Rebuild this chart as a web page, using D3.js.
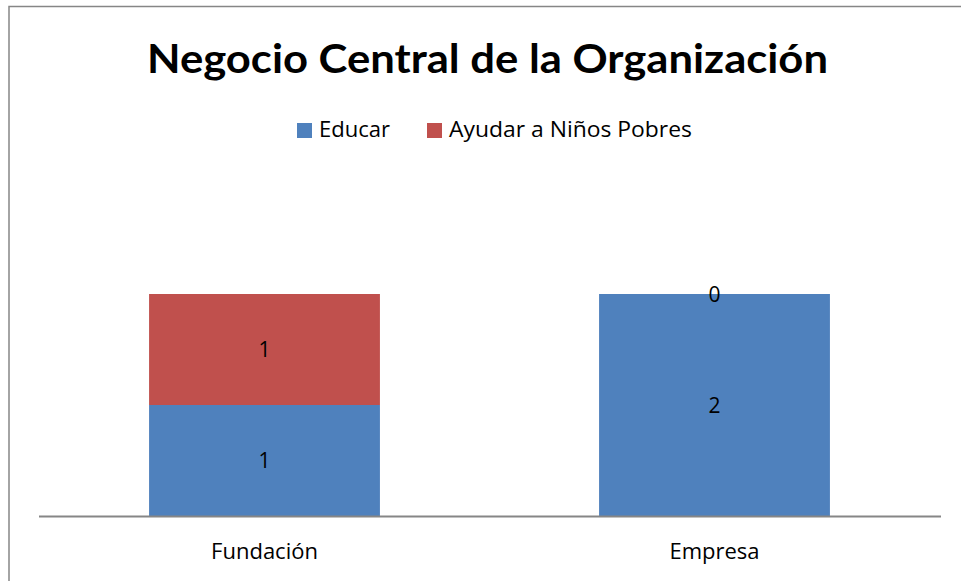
<!DOCTYPE html>
<html>
<head>
<meta charset="utf-8">
<script src="https://cdn.jsdelivr.net/npm/d3@7"></script>
<style>
  body { margin: 0; background: #fff; }
  text { font-family: "Open Sans", sans-serif; fill: #000; }
</style>
</head>
<body>
<div id="chart"></div>
<script>
// chart data
var categories = ["Fundación", "Empresa"];
var seriesNames = ["Educar", "Ayudar a Niños Pobres"];
var educar = [1, 2];
var ayudar = [1, 0];
var colors = ["#4f81bd", "#c0504d"];

var W = 961, H = 581;

var svg = d3.select("#chart").append("svg")
    .attr("width", W)
    .attr("height", H);

// outer frame
svg.append("rect")
    .attr("x", 9).attr("y", 6.5)
    .attr("width", W).attr("height", H)
    .style("fill", "none")
    .style("stroke", "#868686")
    .style("stroke-width", 1.5);

// scales
var x = d3.scaleBand().domain(categories).range([39.5, 939.5]).paddingInner(0.487).paddingOuter(0.2435);
var y = d3.scaleLinear().domain([0, 2]).range([516, 294]);

// stack data
var rows = categories.map(function(c, i) {
    return {cat: c, Educar: educar[i], "Ayudar a Niños Pobres": ayudar[i]};
});
var stacked = d3.stack().keys(seriesNames)(rows);

var layers = svg.selectAll("g.layer")
    .data(stacked).enter().append("g")
    .attr("class", "layer")
    .style("fill", function(d, i) { return colors[i]; });

layers.selectAll("rect")
    .data(function(d) { return d; })
    .enter().append("rect")
    .attr("x", function(d) { return x(d.data.cat); })
    .attr("width", x.bandwidth())
    .attr("y", function(d) { return y(d[1]); })
    .attr("height", function(d) { return y(d[0]) - y(d[1]); });

// value labels
stacked.forEach(function(layer) {
    layer.forEach(function(d) {
        svg.append("text")
            .attr("x", x(d.data.cat) + x.bandwidth() / 2)
            .attr("y", (y(d[0]) + y(d[1])) / 2)
            .attr("dy", "0.36em")
            .attr("text-anchor", "middle")
            .style("font-size", "21px")
            .text(d[1] - d[0]);
    });
});

// category axis
var xAxis = svg.append("g")
    .attr("transform", "translate(0,516)")
    .call(d3.axisBottom(x).tickSize(0).tickPadding(30));
xAxis.select(".domain").attr("d", "M39,0.5H941").style("stroke", "#868686").style("stroke-width", 2);
xAxis.selectAll("text")
    .style("font-family", "'Open Sans', sans-serif")
    .style("font-size", "22px")
    .attr("dy", "0.36em")
    .attr("y", 35);

// title
svg.append("text")
    .attr("x", 487.5).attr("y", 73)
    .attr("text-anchor", "middle")
    .attr("textLength", 681)
    .attr("lengthAdjust", "spacingAndGlyphs")
    .style("font-family", "Lato, 'Open Sans', sans-serif")
    .style("font-size", "41px")
    .style("font-weight", "bold")
    .text("Negocio Central de la Organización");

// legend
var legendX = [297, 427];
var legendW = [71, 243];
var legend = svg.selectAll("g.legend")
    .data(seriesNames).enter().append("g")
    .attr("class", "legend")
    .attr("transform", function(d, i) { return "translate(" + legendX[i] + ",123)"; });
legend.append("rect")
    .attr("width", 15).attr("height", 15)
    .style("fill", function(d, i) { return colors[i]; });
legend.append("text")
    .attr("x", 22).attr("y", 14)
    .attr("textLength", function(d, i) { return legendW[i]; })
    .attr("lengthAdjust", "spacingAndGlyphs")
    .style("font-size", "21px")
    .text(function(d) { return d; });
</script>
</body>
</html>
